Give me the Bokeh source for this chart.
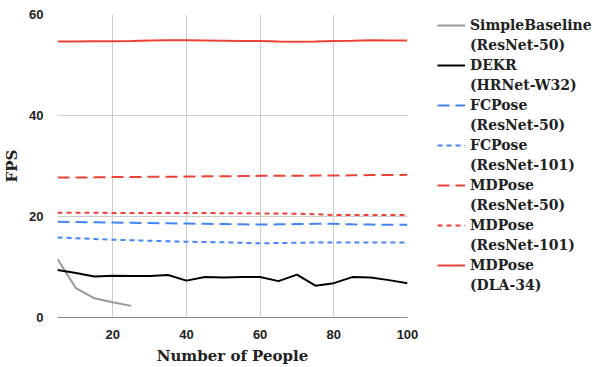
from bokeh.plotting import figure
from bokeh.models import Legend, LegendItem, Range1d, FixedTicker
from bokeh.layouts import row
from bokeh.embed import file_html
from bokeh.resources import INLINE

people = [5, 10, 15, 20, 25, 30, 35, 40, 45, 50, 55, 60, 65, 70, 75, 80, 85, 90, 95, 100]

simple_x = [5, 10, 15, 20, 25]
simple_baseline = [11.6, 5.8, 3.8, 3.0, 2.3]

dekr = [9.4, 8.8, 8.1, 8.25, 8.2, 8.2, 8.4, 7.3, 8.0, 7.9, 8.0, 8.0, 7.2, 8.5, 6.3, 6.8, 8.0, 7.9, 7.4, 6.8]

fcpose_r50 = [18.95, 18.9, 18.85, 18.8, 18.75, 18.7, 18.65, 18.6, 18.55, 18.5, 18.45, 18.4, 18.45, 18.5, 18.55, 18.55, 18.45, 18.4, 18.35, 18.35]
fcpose_r101 = [15.85, 15.7, 15.55, 15.4, 15.3, 15.2, 15.1, 15.0, 14.95, 14.9, 14.8, 14.7, 14.75, 14.8, 14.85, 14.85, 14.85, 14.85, 14.85, 14.85]

mdpose_r50 = [27.7, 27.7, 27.75, 27.8, 27.8, 27.85, 27.85, 27.9, 27.95, 27.95, 28.0, 28.05, 28.05, 28.05, 28.1, 28.1, 28.15, 28.2, 28.2, 28.25]
mdpose_r101 = [20.75, 20.75, 20.75, 20.7, 20.7, 20.7, 20.7, 20.7, 20.7, 20.65, 20.65, 20.6, 20.6, 20.55, 20.45, 20.3, 20.3, 20.3, 20.3, 20.3]
mdpose_dla = [54.65, 54.65, 54.7, 54.7, 54.75, 54.85, 54.9, 54.9, 54.85, 54.8, 54.75, 54.75, 54.65, 54.6, 54.65, 54.75, 54.8, 54.9, 54.85, 54.85]

x_ticks = [20, 40, 60, 80, 100]
y_ticks = [0, 20, 40, 60]

series_names = ["SimpleBaseline", "DEKR", "FCPose", "FCPose", "MDPose", "MDPose", "MDPose"]
backbones = ["(ResNet-50)", "(HRNet-W32)", "(ResNet-50)", "(ResNet-101)", "(ResNet-50)", "(ResNet-101)", "(DLA-34)"]

RED = "#ea4335"
BLUE = "#4285f4"
GRAY = "#999999"

styles = [
    dict(line_color=GRAY, line_width=2),
    dict(line_color="black", line_width=2),
    dict(line_color=BLUE, line_width=2, line_dash="12 6"),
    dict(line_color=BLUE, line_width=2, line_dash="5 4"),
    dict(line_color=RED, line_width=2, line_dash="12 6"),
    dict(line_color=RED, line_width=2, line_dash="5 4"),
    dict(line_color=RED, line_width=2),
]

series = [
    (simple_x, simple_baseline),
    (people, dekr),
    (people, fcpose_r50),
    (people, fcpose_r101),
    (people, mdpose_r50),
    (people, mdpose_r101),
    (people, mdpose_dla),
]

p = figure(width=420, height=367, output_backend="svg", toolbar_location=None,
           x_range=Range1d(5, 100), y_range=Range1d(0, 60),
           min_border_left=51, min_border_right=13, min_border_top=14, min_border_bottom=50)
p.outline_line_color = None

for (xs, ys), st in zip(series, styles):
    p.line(xs, ys, **st)

p.xaxis.ticker = FixedTicker(ticks=x_ticks)
p.yaxis.ticker = FixedTicker(ticks=y_ticks)
p.xgrid.ticker = FixedTicker(ticks=x_ticks)
p.ygrid.ticker = FixedTicker(ticks=y_ticks[1:])
p.xgrid.grid_line_color = "#cccccc"
p.ygrid.grid_line_color = "#cccccc"

for ax in (p.xaxis[0], p.yaxis[0]):
    ax.major_tick_line_color = None
    ax.minor_tick_line_color = None
    ax.major_label_text_font = "Liberation Sans"
    ax.major_label_text_font_style = "bold"
    ax.major_label_text_font_size = "13px"
    ax.major_label_text_color = "#222222"
    ax.axis_label_text_font = "DejaVu Serif"
    ax.axis_label_text_font_style = "bold"
    ax.axis_label_text_font_size = "15px"
    ax.axis_label_text_color = "#222222"

p.xaxis.axis_line_color = "#888888"
p.yaxis.axis_line_color = None
p.xaxis.axis_label = "Number of People"
p.yaxis.axis_label = "FPS"
p.xaxis.major_label_standoff = 6
p.yaxis.major_label_standoff = 8
p.xaxis.axis_label_standoff = 5
p.yaxis.axis_label_standoff = 5

# legend panel (same series, kept outside its visible range; only swatches show)
lg = figure(width=178, height=367, output_backend="svg", toolbar_location=None,
            x_range=Range1d(1000, 1001), y_range=Range1d(1000, 1001),
            x_axis_type=None, y_axis_type=None,
            min_border_left=16, min_border_right=0, min_border_top=0, min_border_bottom=0)
lg.outline_line_color = None
lg.xgrid.visible = False
lg.ygrid.visible = False

items = []
for name, bb, (xs, ys), st in zip(series_names, backbones, series, styles):
    r = lg.line(xs, ys, **st)
    blank = lg.line(xs, ys, line_alpha=0)
    items.append(LegendItem(label=name, renderers=[r]))
    items.append(LegendItem(label=bb, renderers=[blank]))

legend = Legend(items=items, location="top_left", border_line_color=None,
                background_fill_alpha=0, padding=0, margin=1, spacing=0,
                glyph_width=28, glyph_height=20, label_height=20, label_standoff=5,
                label_text_font="DejaVu Serif", label_text_font_style="bold",
                label_text_font_size="14px", label_text_color="#222222")
lg.add_layout(legend, "center")

layout = row(p, lg, spacing=0)
open("out.html", "w").write(file_html(layout, INLINE))
